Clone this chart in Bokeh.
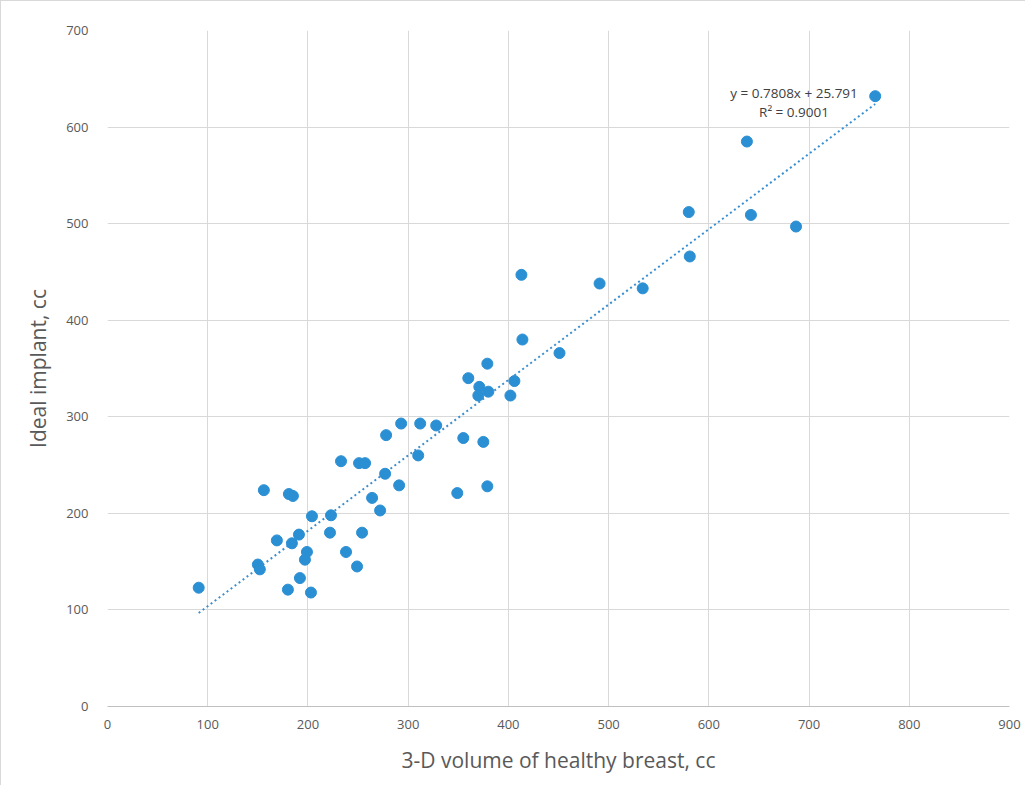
from bokeh.plotting import figure
from bokeh.models import Range1d, FixedTicker, Label
from bokeh.embed import file_html
from bokeh.resources import INLINE

# Data (3-D volume of healthy breast vs ideal implant, cc)
volume_cc = [766, 638, 580, 642, 687, 581, 491, 534, 413, 414, 451, 379, 360, 371,
             406, 370, 380, 402, 293, 312, 328, 278, 355, 375, 310, 233, 251, 257,
             277, 264, 291, 272, 349, 379, 156, 181, 185, 223, 204, 222, 254, 191,
             169, 184, 238, 199, 197, 150, 152, 249, 192, 180, 203, 91]
implant_cc = [632, 585, 512, 509, 497, 466, 438, 433, 447, 380, 366, 355, 340, 331,
              337, 322, 326, 322, 293, 293, 291, 281, 278, 274, 260, 254, 252, 252,
              241, 216, 229, 203, 221, 228, 224, 220, 218, 198, 197, 180, 180, 178,
              172, 169, 160, 160, 152, 147, 142, 145, 133, 121, 118, 123]

slope = 0.7808
intercept = 25.791
r_squared = 0.9001

x_ticks = [0, 100, 200, 300, 400, 500, 600, 700, 800, 900]
y_ticks = [0, 100, 200, 300, 400, 500, 600, 700]

x_label = "3-D volume of healthy breast, cc"
y_label = "Ideal implant, cc"

p = figure(width=1025, height=785, output_backend="svg", toolbar_location=None,
           x_range=Range1d(0, 900), y_range=Range1d(0, 700),
           min_border_left=106, min_border_right=17, min_border_top=29, min_border_bottom=80,
           background_fill_color="white", border_fill_color="white")
p.styles = {"border-left": "1px solid #d9d9d9", "border-top": "1px solid #d9d9d9"}
p.outline_line_color = None

p.xaxis.ticker = FixedTicker(ticks=x_ticks)
p.yaxis.ticker = FixedTicker(ticks=y_ticks)
for g in (p.xgrid, p.ygrid):
    g.grid_line_color = "#d9d9d9"
    g.grid_line_width = 1

for ax in (p.xaxis, p.yaxis):
    ax.major_tick_line_color = None
    ax.minor_tick_line_color = None
    ax.major_label_text_color = "#595959"
    ax.major_label_text_font = "Open Sans"
    ax.major_label_text_font_size = "13px"
    ax.axis_label_text_color = "#595959"
    ax.axis_label_text_font = "Open Sans"
    ax.axis_label_text_font_size = "21px"
    ax.axis_label_text_font_style = "normal"

p.xaxis.axis_line_color = "#bfbfbf"
p.yaxis.axis_line_color = None
p.xaxis.major_label_standoff = 7
p.yaxis.major_label_standoff = 13
p.xaxis.axis_label_standoff = 14
p.yaxis.axis_label_standoff = 11
p.xaxis.axis_label = x_label
p.yaxis.axis_label = y_label

# Linear trendline over the data's x range
x0, x1 = min(volume_cc), max(volume_cc)
p.line([x0, x1], [slope * x0 + intercept, slope * x1 + intercept],
       line_color="#3a8fd0", line_width=2, line_dash="2 3")

p.scatter(volume_cc, implant_cc, size=11, fill_color="#2b8fd3", line_color="#2b8fd3")

p.add_layout(Label(x=685, y=635, text=f"y = {slope}x + {intercept}",
                   text_align="center", text_baseline="middle",
                   text_font="Open Sans", text_font_size="13.5px", text_color="#404040"))
p.add_layout(Label(x=685, y=616, text=f"R² = {r_squared}",
                   text_align="center", text_baseline="middle",
                   text_font="Open Sans", text_font_size="13.5px", text_color="#404040"))

open("out.html", "w").write(file_html(p, INLINE))
